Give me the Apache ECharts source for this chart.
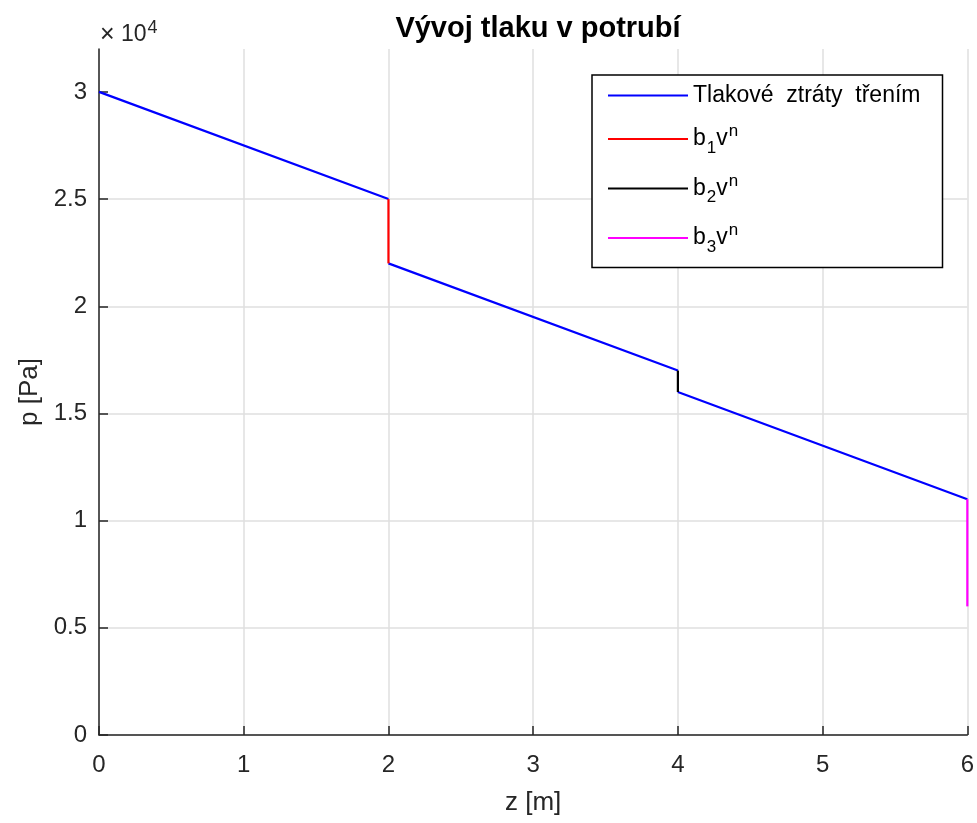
<!DOCTYPE html>
<html>
<head>
<meta charset="utf-8">
<title>Vývoj tlaku v potrubí</title>
<script src="https://cdn.jsdelivr.net/npm/echarts@6/dist/echarts.min.js"></script>
<style>
  html, body { margin: 0; padding: 0; background: #fff; }
  #chart { width: 977px; height: 823px; }
</style>
</head>
<body>
<div id="chart"></div>
<script>
// friction losses along the pipe (null = gap between segments)
var zFriction = [0, 2, null, 2, 4, null, 4, 6];
var pFriction = [30000, 25000, null, 22000, 17000, null, 16000, 11000];

// local losses b_i v^n
var zLoss1 = [2, 2];
var pLoss1 = [25000, 22000];
var zLoss2 = [4, 4];
var pLoss2 = [17000, 16000];
var zLoss3 = [6, 6];
var pLoss3 = [11000, 6000];

var xTicks = [0, 1, 2, 3, 4, 5, 6];
var yTicks = [0, 5000, 10000, 15000, 20000, 25000, 30000];

function pairs(xs, ys) {
    var out = [];
    for (var i = 0; i < xs.length; i++) {
        out.push(xs[i] === null ? ['-', '-'] : [xs[i], ys[i]]);
    }
    return out;
}

var font = "'Liberation Sans', Arial, Helvetica, sans-serif";
var axisColor = '#262626';
var gridColor = '#dfdfdf';

var rich = {
    n: { fontSize: 23, fontFamily: font, color: '#000' },
    sub: { fontSize: 17, fontFamily: font, color: '#000', padding: [18, 0, 0, 1] },
    sup: { fontSize: 17, fontFamily: font, color: '#000', padding: [0, 0, 15, 1] }
};

window.onload = function () {
    var chart = echarts.init(document.getElementById('chart'));

    var option = {
        animation: false,
        backgroundColor: '#fff',
        title: {
            text: 'Vývoj tlaku v potrubí',
            left: 533,
            textAlign: 'center',
            top: 9,
            textStyle: { fontFamily: font, fontSize: 29, fontWeight: 'bold', color: '#000' }
        },
        graphic: [{
            type: 'text',
            left: 100,
            top: 19,
            style: {
                text: '{x|×}{n| 10}{sup|4}',
                rich: {
                    x: { fontSize: 25, fontFamily: font, fill: axisColor },
                    n: { fontSize: 23, fontFamily: font, fill: axisColor },
                    sup: { fontSize: 18, fontFamily: font, fill: axisColor, padding: [0, 0, 14, 1] }
                }
            }
        }],
        legend: {
            orient: 'vertical',
            left: 592,
            top: 75,
            padding: [9, 22, 12, 16],
            icon: 'rect',
            itemWidth: 80,
            itemHeight: 2,
            itemGap: 16,
            borderColor: '#000',
            borderWidth: 1.5,
            backgroundColor: '#fff',
            textStyle: { fontFamily: font, fontSize: 23, color: '#000', rich: rich },
            formatter: function (name) {
                if (name === 'b1') return '{n|b}{sub|1}{n|v}{sup|n}';
                if (name === 'b2') return '{n|b}{sub|2}{n|v}{sup|n}';
                if (name === 'b3') return '{n|b}{sub|3}{n|v}{sup|n}';
                return '{n|' + name + '}';
            },
            data: ['Tlakové  ztráty  třením', 'b1', 'b2', 'b3']
        },
        grid: {
            left: 99,
            right: 9,
            top: 49,
            bottom: 88
        },
        xAxis: {
            type: 'value',
            min: 0,
            max: 6,
            interval: 1,
            name: 'z [m]',
            nameLocation: 'middle',
            nameGap: 55,
            nameTextStyle: { fontFamily: font, fontSize: 26, color: axisColor },
            axisLine: { lineStyle: { color: axisColor, width: 1.5 } },
            axisTick: { inside: true, length: 9, lineStyle: { color: axisColor, width: 1.5 }, customValues: xTicks },
            axisLabel: { fontFamily: font, fontSize: 24, color: axisColor, margin: 18, customValues: xTicks },
            splitLine: { show: true, lineStyle: { color: gridColor, width: 1.5 } }
        },
        yAxis: {
            type: 'value',
            min: 0,
            max: 32000,
            name: 'p [Pa]',
            nameLocation: 'middle',
            nameGap: 56,
            nameTextStyle: { fontFamily: font, fontSize: 26, color: axisColor },
            axisLine: { show: true, lineStyle: { color: axisColor, width: 1.5 } },
            axisTick: { show: true, inside: true, length: 9, lineStyle: { color: axisColor, width: 1.5 }, customValues: yTicks },
            axisLabel: {
                fontFamily: font, fontSize: 24, color: axisColor, margin: 12,
                customValues: yTicks,
                formatter: function (v) { return String(v / 10000); }
            },
            splitLine: { show: true, showMaxLine: false, lineStyle: { color: gridColor, width: 1.5 } }
        },
        series: [
            {
                name: 'Tlakové  ztráty  třením',
                type: 'line',
                symbol: 'none',
                connectNulls: false,
                lineStyle: { color: '#0000ff', width: 2.2 },
                itemStyle: { color: '#0000ff' },
                data: pairs(zFriction, pFriction)
            },
            {
                name: 'b1',
                type: 'line',
                symbol: 'none',
                lineStyle: { color: '#ff0000', width: 2.2 },
                itemStyle: { color: '#ff0000' },
                data: pairs(zLoss1, pLoss1)
            },
            {
                name: 'b2',
                type: 'line',
                symbol: 'none',
                lineStyle: { color: '#000000', width: 2.2 },
                itemStyle: { color: '#000000' },
                data: pairs(zLoss2, pLoss2)
            },
            {
                name: 'b3',
                type: 'line',
                symbol: 'none',
                lineStyle: { color: '#ff00ff', width: 2.2 },
                itemStyle: { color: '#ff00ff' },
                data: pairs(zLoss3, pLoss3)
            }
        ]
    };

    chart.setOption(option);

    window.onresize = function () {
        chart.resize();
    };
};
</script>
</body>
</html>
